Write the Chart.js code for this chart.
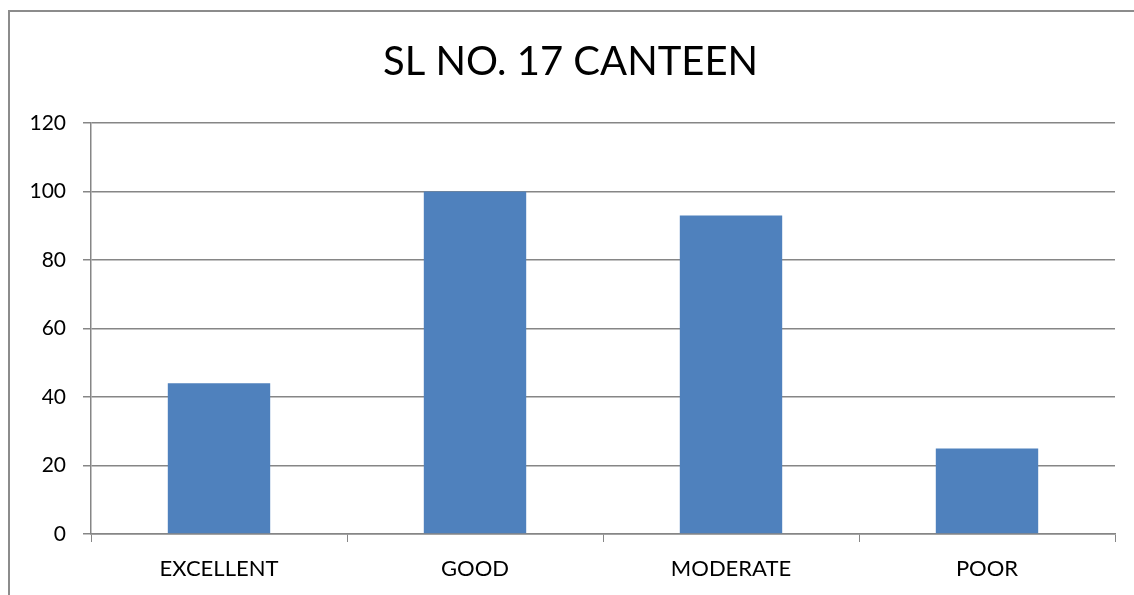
<!DOCTYPE html>
<html>
<head>
<meta charset="utf-8">
<script src="https://cdn.jsdelivr.net/npm/chart.js@4/dist/chart.umd.min.js"></script>
<style>
	html, body { margin: 0; padding: 0; background: #fff; overflow: hidden; }
	#wrap { position: relative; width: 1134px; height: 595px; }
	#frame { position: absolute; left: 8px; top: 10px; width: 2000px; height: 2000px; border: 2px solid #8c8c8c; }
	#chart { position: absolute; left: 0; top: 0; }
</style>
</head>
<body>
<div id="wrap">
	<div id="frame"></div>
	<canvas id="chart" width="1134" height="595"></canvas>
</div>
<script>
const categories = ['EXCELLENT', 'GOOD', 'MODERATE', 'POOR'];
const responses = [44, 100, 93, 25];
const yTicks = [0, 20, 40, 60, 80, 100, 120];

const gridGray = '#868686';
const fontFamily = 'Lato, "Open Sans", sans-serif';

document.addEventListener("DOMContentLoaded", function () {
	const ctx = document.getElementById('chart').getContext('2d');

	new Chart(ctx, {
		type: 'bar',
		data: {
			labels: categories,
			datasets: [{
				label: 'SL NO. 17 CANTEEN',
				data: responses,
				backgroundColor: '#4F81BD',
				borderWidth: 0,
				categoryPercentage: 0.4,
				barPercentage: 1.0
			}]
		},
		options: {
			responsive: false,
			animation: false,
			layout: { padding: { left: 26, right: 19, top: 0, bottom: 0 } },
			plugins: {
				legend: { display: false },
				tooltip: { enabled: false },
				title: {
					display: true,
					text: 'SL NO. 17 CANTEEN',
					color: '#000',
					font: { family: fontFamily, size: 40, weight: 'normal' },
					padding: { top: 38, bottom: 37 }
				}
			},
			scales: {
				x: {
					grid: {
						offset: true,
						drawOnChartArea: false,
						drawTicks: true,
						tickLength: 8,
						color: gridGray
					},
					border: { display: true, color: gridGray, width: 1.5 },
					ticks: {
						color: '#000',
						padding: 14,
						font: { family: fontFamily, size: 22 }
					},
					afterFit: function (scale) { scale.height = 61; }
				},
				y: {
					min: yTicks[0],
					max: yTicks[yTicks.length - 1],
					afterBuildTicks: function (scale) {
						scale.ticks = yTicks.map(function (v) { return { value: v }; });
					},
					grid: {
						color: gridGray,
						lineWidth: 1.5,
						drawTicks: true,
						tickLength: 8
					},
					border: { display: true, color: gridGray, width: 1.5 },
					ticks: {
						color: '#000',
						padding: 17,
						font: { family: fontFamily, size: 21 }
					},
					afterFit: function (scale) { scale.width = 65; }
				}
			}
		}
	});
});
</script>
</body>
</html>
